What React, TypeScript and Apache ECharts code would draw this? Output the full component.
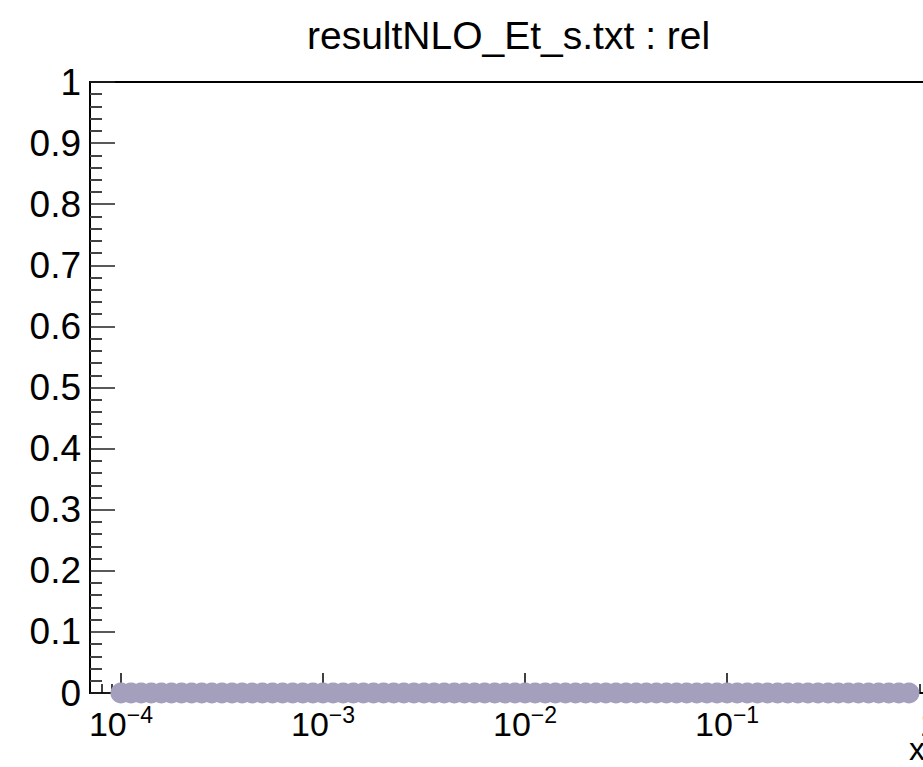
import React, { useEffect, useRef } from "react";
import * as echarts from "echarts";

const TITLE = "resultNLO_Et_s.txt : rel";
const X_NAME = "x";

const xValues = [
  0.0001, 0.0001122, 0.0001259, 0.0001413, 0.0001585, 0.0001778, 0.0001995, 0.0002239, 0.0002512, 0.0002818,
  0.0003162, 0.0003548, 0.0003981, 0.0004467, 0.0005012, 0.0005623, 0.000631, 0.0007079, 0.0007943, 0.0008913,
  0.001, 0.001122, 0.001259, 0.001413, 0.001585, 0.001778, 0.001995, 0.002239, 0.002512, 0.002818,
  0.003162, 0.003548, 0.003981, 0.004467, 0.005012, 0.005623, 0.00631, 0.007079, 0.007943, 0.008913,
  0.01, 0.01122, 0.01259, 0.01413, 0.01585, 0.01778, 0.01995, 0.02239, 0.02512, 0.02818,
  0.03162, 0.03548, 0.03981, 0.04467, 0.05012, 0.05623, 0.0631, 0.07079, 0.07943, 0.08913,
  0.1, 0.1122, 0.1259, 0.1413, 0.1585, 0.1778, 0.1995, 0.2239, 0.2512, 0.2818,
  0.3162, 0.3548, 0.3981, 0.4467, 0.5012, 0.5623, 0.631, 0.7079, 0.7943,
];

const yValues = [
  0, 0, 0, 0, 0, 0, 0, 0, 0, 0,
  0, 0, 0, 0, 0, 0, 0, 0, 0, 0,
  0, 0, 0, 0, 0, 0, 0, 0, 0, 0,
  0, 0, 0, 0, 0, 0, 0, 0, 0, 0,
  0, 0, 0, 0, 0, 0, 0, 0, 0, 0,
  0, 0, 0, 0, 0, 0, 0, 0, 0, 0,
  0, 0, 0, 0, 0, 0, 0, 0, 0, 0,
  0, 0, 0, 0, 0, 0, 0, 0, 0,
];

const xMajorTicks = [0.0001, 0.001, 0.01, 0.1, 1];
const xMajorLabels = ["{b|10}{s|−4}", "{b|10}{s|−3}", "{b|10}{s|−2}", "{b|10}{s|−1}", "{b|1}"];
const xMinorTicks = [
  0.00008, 0.00009,
  0.0002, 0.0003, 0.0004, 0.0005, 0.0006, 0.0007, 0.0008, 0.0009,
  0.002, 0.003, 0.004, 0.005, 0.006, 0.007, 0.008, 0.009,
  0.02, 0.03, 0.04, 0.05, 0.06, 0.07, 0.08, 0.09,
  0.2, 0.3, 0.4, 0.5, 0.6, 0.7, 0.8, 0.9,
];
const X_MIN = 0.0000703;
const X_MAX = 2.0;
const Y_MIN = 0;
const Y_MAX = 1;
const Y_STEP = 0.1;

const FONT = "'Liberation Sans', Arial, Helvetica, sans-serif";

export default function App() {
  const ref = useRef<HTMLDivElement>(null);

  useEffect(() => {
    document.body.style.margin = "0";
    if (!ref.current) return;
    const chart = echarts.init(ref.current, null, { renderer: "svg" });
    const data = xValues.map((x, i) => [x, yValues[i]]);

    chart.setOption({
      animation: false,
      backgroundColor: "#ffffff",
      title: {
        text: TITLE,
        left: 307,
        top: 16,
        padding: 0,
        textStyle: { fontFamily: FONT, fontSize: 39, fontWeight: "normal", color: "#000" },
      },
      grid: {
        left: 90,
        top: 82,
        bottom: 74,
        right: 10,
        show: true,
        borderColor: "#000",
        borderWidth: 2,
        backgroundColor: "transparent",
      },
      xAxis: [
        {
          type: "log",
          min: X_MIN,
          max: X_MAX,
          position: "bottom",
          axisLine: { show: true, lineStyle: { color: "#000", width: 2 } },
          axisTick: {
            show: true,
            inside: true,
            length: 20,
            customValues: xMajorTicks,
            lineStyle: { color: "#000", width: 1.5 },
          },
          axisLabel: {
            show: true,
            customValues: xMajorTicks,
            margin: 10,
            formatter: (v: number) => {
              let idx = 0;
              let best = Infinity;
              xMajorTicks.forEach((t, i) => {
                const d = Math.abs(Math.log10(t) - Math.log10(v));
                if (d < best) { best = d; idx = i; }
              });
              return xMajorLabels[idx];
            },
            rich: {
              b: { fontFamily: FONT, fontSize: 34, color: "#000", lineHeight: 42 },
              s: { fontFamily: FONT, fontSize: 23, color: "#000", lineHeight: 14, verticalAlign: "top" },
            },
          },
          splitLine: { show: false },
          minorTick: { show: false },
        },
        {
          type: "log",
          min: X_MIN,
          max: X_MAX,
          position: "bottom",
          axisLine: { show: false },
          axisTick: {
            show: true,
            inside: true,
            length: 9,
            customValues: xMinorTicks,
            lineStyle: { color: "#000", width: 1.5 },
          },
          axisLabel: { show: false },
          splitLine: { show: false },
        },
      ],
      yAxis: {
        type: "value",
        min: Y_MIN,
        max: Y_MAX,
        interval: Y_STEP,
        axisLine: { show: true, lineStyle: { color: "#000", width: 2 } },
        axisTick: { show: true, inside: true, length: 25, lineStyle: { color: "#222", width: 1.5 } },
        minorTick: { show: true, splitNumber: 5, length: 12, lineStyle: { color: "#444", width: 2 } },
        axisLabel: {
          margin: 9,
          fontFamily: FONT,
          fontSize: 37,
          color: "#000",
        },
        splitLine: { show: false },
      },
      graphic: [
        {
          type: "text",
          left: 909,
          top: 733,
          style: { text: X_NAME, font: `32px ${FONT}`, fill: "#000" },
        },
      ],
      series: [
        {
          type: "scatter",
          xAxisIndex: 0,
          data,
          symbol: "circle",
          symbolSize: 21,
          itemStyle: { color: "#a59fbe", opacity: 1 },
          emphasis: { disabled: true },
        },
      ],
    });
    return () => chart.dispose();
  }, []);

  return (
    <div style={{ width: 923, height: 767, overflow: "hidden", position: "relative" }}>
      <div ref={ref} style={{ width: 1000, height: 767 }} />
    </div>
  );
}
